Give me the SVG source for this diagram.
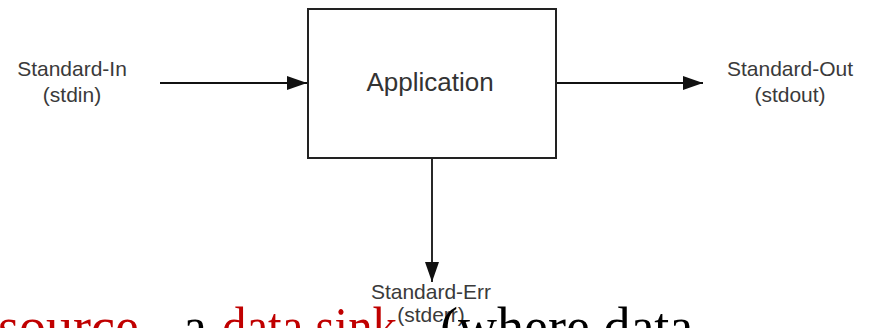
<svg xmlns="http://www.w3.org/2000/svg" width="870" height="328" viewBox="0 0 870 328">
<style>
.lbl{font-family:"Liberation Sans",Arial,sans-serif;font-size:21px;fill:#3a3a3a;text-anchor:middle}
.app{font-family:"Liberation Sans",Arial,sans-serif;font-size:26px;fill:#333;text-anchor:middle}
.conn{stroke:#111;stroke-width:1.8;fill:none}
.big{font-family:"Liberation Serif","Times New Roman",serif;font-size:54px}
.red{fill:#c00000}
.blk{fill:#000}
</style>
<defs>
<marker id="ah" markerWidth="20" markerHeight="14" refX="20" refY="7" orient="auto" markerUnits="userSpaceOnUse">
<path d="M0,0 L20,7 L0,14 Z" fill="#111"/>
</marker>
</defs>
<rect width="870" height="328" fill="#fff"/>
<g id="connectors">
<line class="conn" x1="160" y1="83" x2="307" y2="83" marker-end="url(#ah)"/>
<line class="conn" x1="556" y1="83" x2="703" y2="83" marker-end="url(#ah)"/>
<line class="conn" x1="432" y1="158" x2="432" y2="282" marker-end="url(#ah)"/>
</g>
<g id="application">
<rect x="308" y="9" width="248" height="149" fill="#fff" stroke="#222" stroke-width="2"/>
<text class="app" x="430" y="91">Application</text>
</g>
<g id="stdin">
<text class="lbl" x="72" y="76">Standard-In</text>
<text class="lbl" x="72" y="102">(stdin)</text>
</g>
<g id="stdout">
<text class="lbl" x="790" y="76">Standard-Out</text>
<text class="lbl" x="790" y="102">(stdout)</text>
</g>
<g id="stderr">
<text class="lbl" x="431" y="299">Standard-Err</text>
<text class="lbl" x="431" y="322">(stderr)</text>
</g>
<text class="big" y="345"><tspan class="red" x="-2">source,</tspan><tspan class="blk" x="183">a</tspan><tspan class="red" x="222" textLength="175" lengthAdjust="spacingAndGlyphs">data sink</tspan><tspan class="blk" x="440">(where data</tspan></text>
</svg>
